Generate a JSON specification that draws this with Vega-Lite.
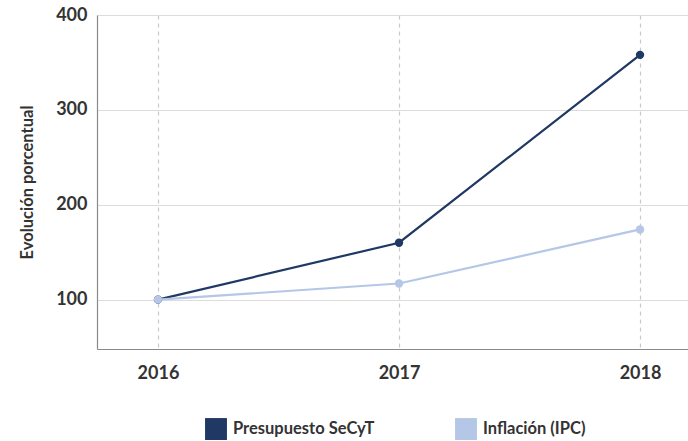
{
  "$schema": "https://vega.github.io/schema/vega-lite/v6.json",
  "width": 591,
  "height": 334,
  "autosize": {"type": "none"},
  "padding": {"left": 97, "top": 15, "right": 0, "bottom": 92},
  "background": "white",
  "config": {
    "view": {"stroke": null},
    "font": "Lato"
  },
  "data": {
    "values": [
      {"anio": 2016, "serie": "Presupuesto SeCyT", "valor": 100},
      {"anio": 2017, "serie": "Presupuesto SeCyT", "valor": 160},
      {"anio": 2018, "serie": "Presupuesto SeCyT", "valor": 358},
      {"anio": 2016, "serie": "Inflación (IPC)", "valor": 100},
      {"anio": 2017, "serie": "Inflación (IPC)", "valor": 117},
      {"anio": 2018, "serie": "Inflación (IPC)", "valor": 174}
    ]
  },
  "encoding": {
    "x": {
      "field": "anio",
      "type": "quantitative",
      "scale": {"domain": [2015.747, 2018.199], "nice": false, "zero": false},
      "axis": {
        "values": [2016, 2017, 2018],
        "format": "d",
        "title": null,
        "grid": true,
        "gridDash": [4, 4],
        "gridColor": "#c8c8c8",
        "gridWidth": 1.2,
        "ticks": false,
        "domainColor": "#8a8a8a",
        "domainWidth": 1.2,
        "labelFont": "Lato",
        "labelFontWeight": "bold",
        "labelFontSize": 18,
        "labelColor": "#333333",
        "labelPadding": 15
      }
    },
    "y": {
      "field": "valor",
      "type": "quantitative",
      "scale": {"domain": [48, 400], "nice": false, "zero": false},
      "axis": {
        "values": [100, 200, 300, 400],
        "title": "Evolución porcentual",
        "titleFont": "Lato",
        "titleFontWeight": "bold",
        "titleFontSize": 16.5,
        "titleColor": "#333333",
        "titlePadding": 20,
        "grid": true,
        "gridColor": "#dcdcdc",
        "gridWidth": 1.2,
        "ticks": false,
        "domainColor": "#8a8a8a",
        "domainWidth": 1.2,
        "labelFont": "Lato",
        "labelFontWeight": "bold",
        "labelFontSize": 18,
        "labelColor": "#333333",
        "labelPadding": 10
      }
    },
    "color": {
      "field": "serie",
      "type": "nominal",
      "scale": {
        "domain": ["Presupuesto SeCyT", "Inflación (IPC)"],
        "range": ["#1f3864", "#b4c7e7"]
      },
      "legend": {
        "title": null,
        "orient": "none",
        "direction": "horizontal",
        "legendX": 108,
        "legendY": 403,
        "symbolType": "square",
        "symbolSize": 480,
        "symbolStrokeWidth": 0,
        "symbolOpacity": 1,
        "labelFont": "Lato",
        "labelFontWeight": "bold",
        "labelFontSize": 16.5,
        "labelColor": "#333333",
        "labelOffset": 6,
        "columnPadding": 80
      }
    }
  },
  "layer": [
    {"mark": {"type": "line", "strokeWidth": 2.2}},
    {"mark": {"type": "point", "filled": true, "size": 70, "opacity": 1}}
  ]
}
